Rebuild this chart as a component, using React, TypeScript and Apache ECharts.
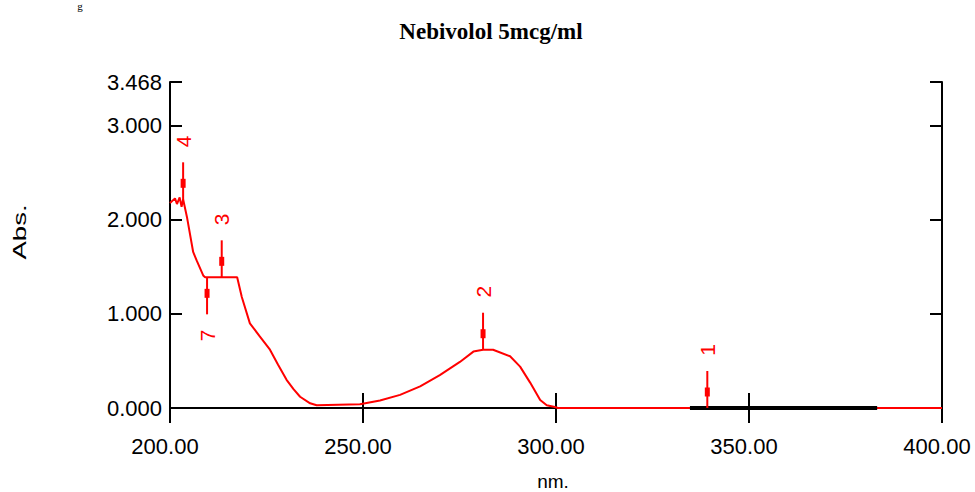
import React, { useEffect, useRef } from "react";
import * as echarts from "echarts";

// Spectrum (wavelength in nm, absorbance)
const wavelengthNm = [
  200.0, 201.3, 201.8, 202.5, 203.0, 203.4, 204.4, 206.0, 206.9, 208.6, 209.1,
  213.4, 217.4, 218.6, 220.7, 223.3, 225.9, 228.0, 230.2, 232.0, 233.7, 236.3,
  238.0, 249.2, 254.4, 259.6, 264.8, 269.9, 275.1, 278.6, 281.1, 283.7, 288.1,
  290.7, 293.3, 295.9, 297.6, 299.7, 300.5, 400.0,
];
const absorbance = [
  2.18, 2.23, 2.17, 2.24, 2.14, 2.22, 2.03, 1.66, 1.57, 1.41, 1.39,
  1.39, 1.39, 1.18, 0.9, 0.76, 0.62, 0.46, 0.3, 0.2, 0.12, 0.05,
  0.03, 0.04, 0.08, 0.14, 0.23, 0.35, 0.49, 0.6, 0.62, 0.62, 0.55,
  0.44, 0.27, 0.085, 0.03, 0.01, 0.0, 0.0,
];

// Peak / valley picks
const peakLabels = ["1", "2", "3", "4", "7"];
const peakNm = [339.2, 281.1, 213.4, 203.4, 209.6];
const peakAbs = [0.0, 0.62, 1.39, 2.22, 1.39];
const peakSide = [1, 1, 1, 1, -1]; // 1 = marker above curve, -1 = below

// Black baseline segment
const baselineNm = [334.7, 383.2];
const baselineAbs = [0, 0];

// Axes
const xMin = 200;
const xMax = 400;
const xStep = 50;
const yMin = 0;
const yMax = 3.468;
const yStep = 1;

const titleText = "Nebivolol 5mcg/ml";
const xName = "nm.";
const yName = "Abs.";

const RED = "#ff0000";
const SANS = "Liberation Sans, Arial, sans-serif";

export default function App() {
  const ref = useRef<HTMLDivElement>(null);

  useEffect(() => {
    if (!ref.current) return;
    const chart = echarts.init(ref.current, null, { renderer: "svg" });

    const axisLine = { show: true, lineStyle: { color: "#000", width: 2 } };

    const option: any = {
      animation: false,
      backgroundColor: "#fff",
      grid: { left: 170, top: 82, right: 33, bottom: 84, containLabel: false },
      title: {
        text: titleText,
        left: 486,
        top: 15,
        textAlign: "center",
        textStyle: {
          fontFamily: "Liberation Serif, Times New Roman, serif",
          fontSize: 23,
          fontWeight: "bold",
          color: "#000",
        },
      },
      graphic: [
        {
          type: "text",
          x: 20,
          y: 232,
          rotation: Math.PI / 2,
          scaleX: 1.45,
          style: {
            text: yName,
            font: `19px ${SANS}`,
            fill: "#000",
            align: "center",
            verticalAlign: "middle",
          },
        },
        {
          type: "text",
          x: 553,
          y: 481,
          style: {
            text: xName,
            font: `19px ${SANS}`,
            fill: "#000",
            align: "center",
            verticalAlign: "middle",
          },
        },
        {
          type: "text",
          x: 80,
          y: 0,
          style: {
            text: "g",
            font: "11px Liberation Serif, serif",
            fill: "#000",
            align: "center",
            verticalAlign: "top",
          },
        },
      ],
      xAxis: [
        {
          type: "value",
          position: "bottom",
          min: xMin,
          max: xMax,
          interval: xStep,
          axisLine,
          axisTick: { show: true, inside: true, length: 15, lineStyle: { color: "#000", width: 2 } },
          splitLine: { show: false },
          axisLabel: {
            show: true,
            margin: 27,
            color: "#000",
            fontFamily: SANS,
            fontSize: 22,
            padding: [0, 10, 0, 0],
            formatter: (v: number) => v.toFixed(2),
          },
        },
        {
          type: "value",
          position: "top",
          min: xMin,
          max: xMax,
          interval: xStep,
          axisLine,
          axisTick: { show: true, inside: true, length: 15, lineStyle: { color: "#000", width: 2 } },
          splitLine: { show: false },
          axisLabel: { show: false },
        },
      ],
      yAxis: [
        {
          type: "value",
          position: "left",
          min: yMin,
          max: yMax,
          interval: yStep,
          axisLine,
          axisTick: { show: true, inside: true, length: 12, lineStyle: { color: "#000", width: 2 } },
          splitLine: { show: false },
          axisLabel: {
            show: true,
            margin: 8,
            color: "#000",
            fontFamily: SANS,
            fontSize: 22,
            showMaxLabel: true,
            formatter: (v: number) => v.toFixed(3),
          },
        },
        {
          type: "value",
          position: "right",
          min: yMin,
          max: yMax,
          interval: yStep,
          axisLine,
          axisTick: { show: true, inside: true, length: 12, lineStyle: { color: "#000", width: 2 } },
          splitLine: { show: false },
          axisLabel: { show: false },
        },
      ],
      series: [
        {
          type: "line",
          name: "spectrum",
          data: wavelengthNm.map((x, i) => [x, absorbance[i]]),
          showSymbol: false,
          smooth: false,
          lineStyle: { color: RED, width: 2 },
          z: 3,
        },
        {
          type: "line",
          name: "baseline",
          data: baselineNm.map((x, i) => [x, baselineAbs[i]]),
          showSymbol: false,
          lineStyle: { color: "#000", width: 4 },
          z: 4,
        },
        {
          type: "custom",
          name: "peaks",
          z: 5,
          clip: false,
          data: peakNm.map((x, i) => [x, peakAbs[i], peakSide[i]]),
          renderItem: (params: any, api: any) => {
            const p = api.coord([api.value(0), api.value(1)]);
            const s = api.value(2);
            const label = peakLabels[params.dataIndex];
            return {
              type: "group",
              children: [
                {
                  type: "line",
                  shape: { x1: p[0], y1: p[1], x2: p[0], y2: p[1] - s * 37 },
                  style: { stroke: RED, lineWidth: 2 },
                },
                {
                  type: "rect",
                  shape: { x: p[0] - 2.5, y: p[1] - s * 16 - 4.5, width: 5, height: 9 },
                  style: { fill: RED },
                },
                {
                  type: "text",
                  x: p[0],
                  y: p[1] - s * 58,
                  rotation: Math.PI / 2,
                  style: {
                    text: label,
                    font: `21px ${SANS}`,
                    fill: RED,
                    align: "center",
                    verticalAlign: "middle",
                  },
                },
              ],
            };
          },
        },
      ],
    };

    chart.setOption(option);
    return () => chart.dispose();
  }, []);

  return (
    <div
      ref={ref}
      style={{ position: "fixed", left: 0, top: 0, width: 975, height: 492, background: "#fff" }}
    />
  );
}
